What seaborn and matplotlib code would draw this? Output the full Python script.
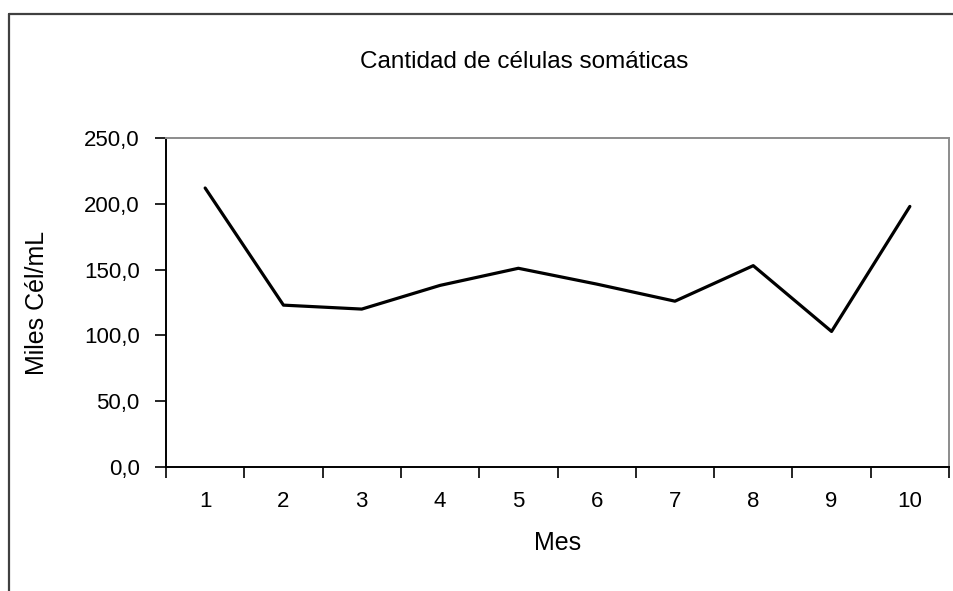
import matplotlib
matplotlib.use("Agg")
import matplotlib.pyplot as plt
import seaborn as sns
import pandas as pd
from matplotlib.lines import Line2D
from matplotlib.ticker import FixedLocator, FuncFormatter

# DATA
meses = [1, 2, 3, 4, 5, 6, 7, 8, 9, 10]
celulas = [212, 123, 120, 138, 151, 139, 126, 153, 103, 198]

df = pd.DataFrame({"Mes": meses, "Celulas": celulas})

sns.set_style("white")
plt.rcParams["font.family"] = ["Liberation Sans", "DejaVu Sans"]
plt.rcParams["text.color"] = "black"
plt.rcParams["axes.labelcolor"] = "black"
plt.rcParams["xtick.color"] = "black"
plt.rcParams["ytick.color"] = "black"

fig = plt.figure(figsize=(9.54, 5.91), dpi=100)
ax = fig.add_axes([166 / 954, 1 - 467 / 591, (949 - 166) / 954, (467 - 138) / 591])

sns.lineplot(x="Mes", y="Celulas", data=df, ax=ax, color="black", linewidth=2.3)

# axes like the old spreadsheet chart
ax.set_xlim(0.5, 10.5)
ax.set_ylim(0, 250)
ax.set_yticks([0, 50, 100, 150, 200, 250])
ax.yaxis.set_major_formatter(FuncFormatter(lambda v, p: f"{v:.1f}".replace(".", ",")))
ax.set_xticks(meses)
ax.set_xticklabels([str(m) for m in meses])
ax.xaxis.set_minor_locator(FixedLocator([m - 0.5 for m in meses] + [10.5]))
ax.tick_params(axis="x", which="major", length=0, pad=17, labelsize=16)
ax.tick_params(axis="x", which="minor", length=8, width=1.2, direction="out", bottom=True)
ax.tick_params(axis="y", length=8, width=1.2, direction="out", left=True, labelsize=16, pad=11)

for s in ["left", "bottom"]:
    ax.spines[s].set_color("black")
    ax.spines[s].set_linewidth(1.4)
for s in ["top", "right"]:
    ax.spines[s].set_color("#8c8c8c")
    ax.spines[s].set_linewidth(1.4)

ax.set_xlabel("Mes", fontsize=18, labelpad=14)
ax.set_ylabel("Miles Cél/mL", fontsize=18, labelpad=25)
fig.text(524 / 954, 1 - 62 / 591, "Cantidad de células somáticas", ha="center", va="center", fontsize=17.5)

# outer chart frame (top and left edges visible)
fig.add_artist(Line2D([9.5 / 954, 9.5 / 954], [0, 1 - 13.5 / 591], transform=fig.transFigure, color="#404040", linewidth=1.6))
fig.add_artist(Line2D([9.5 / 954, 1], [1 - 13.5 / 591, 1 - 13.5 / 591], transform=fig.transFigure, color="#404040", linewidth=1.6))

fig.savefig("out.png", dpi=100)
